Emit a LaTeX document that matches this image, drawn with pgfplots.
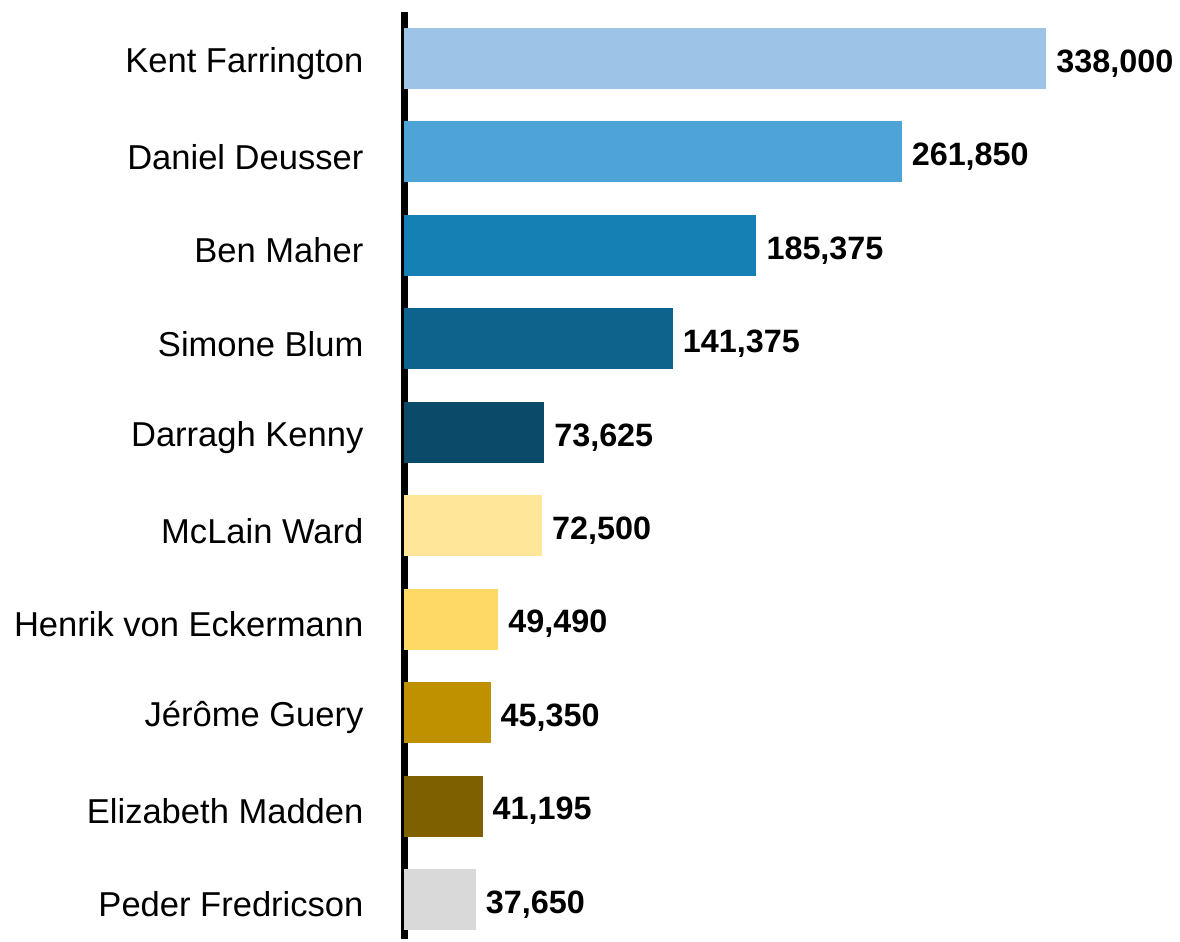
\documentclass[border=0pt]{standalone}
\usepackage{pgfplots}
\pgfplotsset{compat=1.18}
\usepackage{fontspec}
\setmainfont{Liberation Sans}
\definecolor{c1}{HTML}{9DC3E6}
\definecolor{c2}{HTML}{4EA3D7}
\definecolor{c3}{HTML}{1480B4}
\definecolor{c4}{HTML}{0E638C}
\definecolor{c5}{HTML}{0B4A68}
\definecolor{c6}{HTML}{FFE699}
\definecolor{c7}{HTML}{FFD966}
\definecolor{c8}{HTML}{BF9000}
\definecolor{c9}{HTML}{7F6000}
\definecolor{c10}{HTML}{D9D9D9}
\begin{document}
\begin{tikzpicture}
\begin{axis}[
  scale only axis, width=321.5pt, height=464pt,
  xbar, bar width=30.5pt, bar shift=0pt,
  xmin=0, xmax=338000, ymin=-0.417, ymax=9.497,
  axis x line=none, axis y line*=left,
  y axis line style={line width=3.4pt, -},
  ytick={0,...,9},
  yticklabels={Peder Fredricson, Elizabeth Madden, Jérôme Guery, Henrik von Eckermann, McLain Ward, Darragh Kenny, Simone Blum, Ben Maher, Daniel Deusser, Kent Farrington},
  major tick length=0pt,
  yticklabel style={font=\fontsize{17.3}{20}\selectfont, xshift=-17pt, yshift=-2.5pt},
  /pgf/number format/assume math mode=true,
  /pgf/number format/fixed,
  /pgf/number format/1000 sep={,},
  nodes near coords,
  nodes near coords style={font=\bfseries\fontsize{16.2}{19}\selectfont, anchor=west, xshift=1.5pt, yshift=-2.5pt},
  clip=false,
]
\addplot[fill=c1, draw=none] coordinates {(338000,9)};
\addplot[fill=c2, draw=none] coordinates {(261850,8)};
\addplot[fill=c3, draw=none] coordinates {(185375,7)};
\addplot[fill=c4, draw=none] coordinates {(141375,6)};
\addplot[fill=c5, draw=none] coordinates {(73625,5)};
\addplot[fill=c6, draw=none] coordinates {(72500,4)};
\addplot[fill=c7, draw=none] coordinates {(49490,3)};
\addplot[fill=c8, draw=none] coordinates {(45350,2)};
\addplot[fill=c9, draw=none] coordinates {(41195,1)};
\addplot[fill=c10, draw=none] coordinates {(37650,0)};
\path (rel axis cs:-0.63,0) rectangle (rel axis cs:1.205,1.013);
\end{axis}
\end{tikzpicture}
\end{document}
